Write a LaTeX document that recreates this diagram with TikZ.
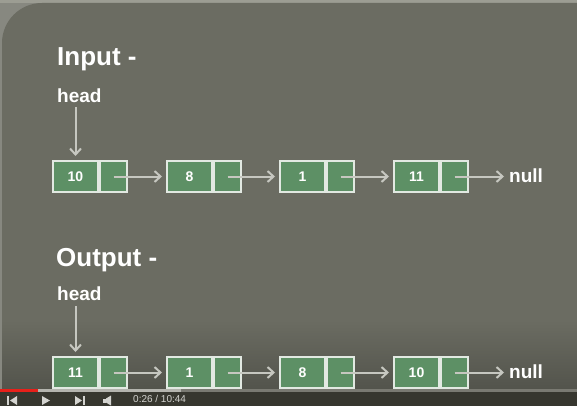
\documentclass[tikz,border=0pt]{standalone}
\usepackage{fontspec}
\setmainfont{Liberation Sans}
\usetikzlibrary{arrows.meta,calc}
\definecolor{slide}{HTML}{6B6C62}
\definecolor{outer}{HTML}{878880}
\definecolor{topband}{HTML}{9C9D93}
\definecolor{darkslide}{HTML}{53544C}
\definecolor{bar}{HTML}{37372F}
\definecolor{boxgreen}{HTML}{5D9065}
\definecolor{boxline}{HTML}{E2E9E2}
\definecolor{arrowc}{HTML}{C6C7C0}
\definecolor{ctrl}{HTML}{D4D4D0}
\definecolor{progdark}{HTML}{7A7A72}
\definecolor{progload}{HTML}{B4B4AE}
\definecolor{progred}{HTML}{E8201A}
\begin{document}
\begin{tikzpicture}[x=1pt,y=-1pt,
  dcell/.style={draw=boxline, fill=boxgreen, line width=2pt, minimum width=45pt, minimum height=31pt, inner sep=0pt, text=white, font=\bfseries\fontsize{14}{14}\selectfont},
  pcell/.style={draw=boxline, fill=boxgreen, line width=2pt, minimum width=27pt, minimum height=31pt, inner sep=0pt, anchor=west},
  link/.style={draw=arrowc, line width=2pt, -{Straight Barb[length=6pt,width=11pt]}},
  title/.style={text=white, font=\bfseries\fontsize{26}{26}\selectfont, anchor=base west, inner sep=0pt},
  lab/.style={text=white, font=\bfseries\fontsize{19}{19}\selectfont, anchor=base west, inner sep=0pt},
  timetxt/.style={text=ctrl, font=\fontsize{10}{10}\selectfont, anchor=north west, inner sep=0pt}]
\useasboundingbox (0,0) rectangle (577,406);
\clip (0,0) rectangle (577,406);
% background
\fill[outer] (0,0) rectangle (577,406);
\fill[topband] (0,0) rectangle (577,3);
\fill[slide, rounded corners=40pt] (2,3) rectangle (660,480);
\shade[top color=slide, bottom color=darkslide] (2,320) rectangle (577,389);

% titles
\node[title] (tin) at (57,66) {Input -};
\node[lab] (h1) at (57,103) {head};
\node[title] (tout) at (56,266) {Output -};
\node[lab] (h2) at (57,300) {head};

% row 1
\node[dcell] (a1) at (75.5,176.5) {10};
\node[pcell] (a1p) at (a1.east) {};
\node[dcell] (a2) at (189.5,176.5) {8};
\node[pcell] (a2p) at (a2.east) {};
\node[dcell] (a3) at (302.5,176.5) {1};
\node[pcell] (a3p) at (a3.east) {};
\node[dcell] (a4) at (416.5,176.5) {11};
\node[pcell] (a4p) at (a4.east) {};
\node[lab] (n1) at (509,182) {null};

% row 2
\node[dcell] (b1) at (75.5,372.5) {11};
\node[pcell] (b1p) at (b1.east) {};
\node[dcell] (b2) at (189.5,372.5) {1};
\node[pcell] (b2p) at (b2.east) {};
\node[dcell] (b3) at (302.5,372.5) {8};
\node[pcell] (b3p) at (b3.east) {};
\node[dcell] (b4) at (416.5,372.5) {10};
\node[pcell] (b4p) at (b4.east) {};
\node[lab] (n2) at (509,378) {null};

% connectors
\draw[link, shorten <=4pt, shorten >=4pt] (h1.south -| a1.north) -- (a1.north);
\draw[link, shorten >=4pt] (a1p.center) -- (a2.west);
\draw[link, shorten >=4pt] (a2p.center) -- (a3.west);
\draw[link, shorten >=4pt] (a3p.center) -- (a4.west);
\draw[link, shorten >=5pt] (a4p.center) -- (a4p.center -| n1.west);

\draw[link, shorten <=6pt, shorten >=4pt] (h2.south -| b1.north) -- (b1.north);
\draw[link, shorten >=4pt] (b1p.center) -- (b2.west);
\draw[link, shorten >=4pt] (b2p.center) -- (b3.west);
\draw[link, shorten >=4pt] (b3p.center) -- (b4.west);
\draw[link, shorten >=5pt] (b4p.center) -- (b4p.center -| n2.west);

% player bar
\fill[bar] (0,392) rectangle (577,406);
\fill[progdark] (0,389) rectangle (577,392);
\fill[progload] (0,389) rectangle (181,392);
\fill[progred] (0,389) rectangle (38,392);
% controls
\fill[ctrl] (7,396) rectangle (9,405);
\fill[ctrl] (17,396) -- (10,400.5) -- (17,405) -- cycle;
\fill[ctrl] (42,396) -- (50,400.5) -- (42,405) -- cycle;
\fill[ctrl] (75,396) -- (82,400.5) -- (75,405) -- cycle;
\fill[ctrl] (83,396) rectangle (85,405);
\fill[ctrl] (103,398.5) rectangle (106,402.5);
\fill[ctrl] (106,398.5) -- (111,395.5) -- (111,405.5) -- (106,402.5) -- cycle;
\node[timetxt] (tm) at (133,395.5) {0:26 / 10:44};
\end{tikzpicture}
\end{document}
